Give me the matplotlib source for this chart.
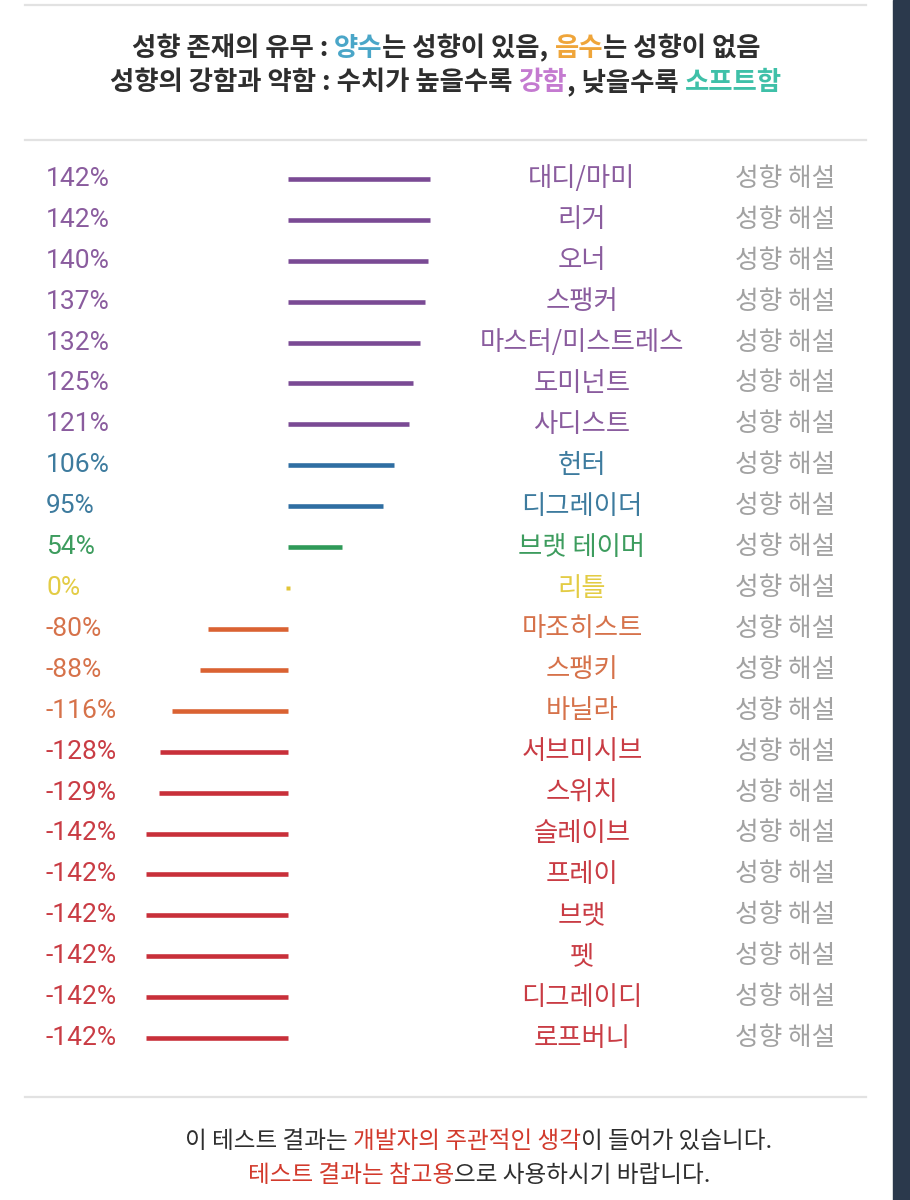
import matplotlib
matplotlib.use('Agg')
import matplotlib.pyplot as plt
from matplotlib.lines import Line2D
from matplotlib.patches import Rectangle
from matplotlib.transforms import blended_transform_factory

KR = ['Noto Sans CJK KR', 'DejaVu Sans']
NUM = ['Roboto', 'Noto Sans CJK KR', 'DejaVu Sans']

# chart data
names = ['대디/마미', '리거', '오너', '스팽커', '마스터/미스트레스', '도미넌트', '사디스트',
         '헌터', '디그레이더', '브랫 테이머', '리틀', '마조히스트', '스팽키', '바닐라',
         '서브미시브', '스위치', '슬레이브', '프레이', '브랫', '펫', '디그레이디', '로프버니']
values = [142, 142, 140, 137, 132, 125, 121, 106, 95, 54, 0, -80, -88, -116,
          -128, -129, -142, -142, -142, -142, -142, -142]
groups = ['purple'] * 7 + ['blue'] * 2 + ['green', 'yellow'] + ['orange'] * 3 + ['red'] * 8
link_text = '성향 해설'

header_1 = [('성향 존재의 유무 : ', '#2e2e2e'), ('양수', '#4aa6c8'), ('는 성향이 있음, ', '#2e2e2e'),
            ('음수', '#efa53a'), ('는 성향이 없음', '#2e2e2e')]
header_2 = [('성향의 강함과 약함 : 수치가 높을수록 ', '#2e2e2e'), ('강함', '#c47ad0'),
            (', 낮을수록 ', '#2e2e2e'), ('소프트함', '#3fc0a8')]
footer_1 = [('이 테스트 결과는 ', '#2e2e2e'), ('개발자의 주관적인 생각', '#d23a2c'),
            ('이 들어가 있습니다.', '#2e2e2e')]
footer_2 = [('테스트 결과는 참고용', '#d23a2c'), ('으로 사용하시기 바랍니다.', '#2e2e2e')]

bar_colors = {'purple': '#7a4a94', 'blue': '#2f6ea2', 'green': '#2f9a58',
              'yellow': '#e2c536', 'orange': '#da6232', 'red': '#c8303a'}
text_colors = {'purple': '#8a5c9e', 'blue': '#3d7b9e', 'green': '#3d9c5e',
               'yellow': '#e3cc45', 'orange': '#d6724a', 'red': '#c93c44'}

W, H = 910, 1200


def rich_line(fig, y_px, parts, size, weight, center_px):
    renderer = fig.canvas.get_renderer()
    full = ''.join(p[0] for p in parts)

    def width(s):
        t = fig.text(0, 0, s, fontsize=size, weight=weight, family=KR)
        w = t.get_window_extent(renderer).width
        t.remove()
        return w

    mark_w = width('.')
    total = width(full)
    x0 = center_px - total / 2
    prefix = ''
    for s, c in parts:
        off = width(prefix + '.') - mark_w if prefix else 0
        fig.text((x0 + off) / W, 1 - y_px / H, s, color=c, fontsize=size, weight=weight,
                 family=KR, ha='left', va='center')
        prefix += s


fig = plt.figure(figsize=(W / 100, H / 100), dpi=100)
fig.patch.set_facecolor('white')

# dark strip on the right edge
fig.add_artist(Rectangle((893 / W, 0), 17 / W, 1, color='#2b394c', transform=fig.transFigure))

# separators
for y in [5, 140, 1097]:
    fig.add_artist(Line2D([25 / W, 866 / W], [1 - y / H] * 2, color='#e2e2e2', lw=1.6))

rich_line(fig, 48, header_1, 19, 'bold', 446)
rich_line(fig, 82, header_2, 19, 'bold', 446)
rich_line(fig, 1141, footer_1, 17, 'medium', 479)
rich_line(fig, 1175, footer_2, 17, 'medium', 479)

ax = fig.add_axes([138 / W, 1 - 1058.5 / H, 300 / W, 900 / H])
ax.set_xlim(-150, 150)
ax.set_ylim(len(names) - 0.5, -0.5)
ax.axis('off')

trans = blended_transform_factory(fig.transFigure, ax.transData)
for i, (name, v, g) in enumerate(zip(names, values, groups)):
    if v == 0:
        ax.plot([0], [i], marker='s', ms=2.5, color=bar_colors[g], mec='none')
    else:
        ax.plot([0, v], [i, i], color=bar_colors[g], lw=3.3, solid_capstyle='butt')
    ax.text(46 / W, i, f'{v}%', transform=trans, ha='left', va='center',
            fontsize=19, color=text_colors[g], family=NUM)
    ax.text(582 / W, i, name, transform=trans, ha='center', va='center',
            fontsize=19, color=text_colors[g], family=KR)
    ax.text(785 / W, i, link_text, transform=trans, ha='center', va='center',
            fontsize=18.5, color='#a2a2a2', family=KR)

fig.savefig('out.png', dpi=100)
